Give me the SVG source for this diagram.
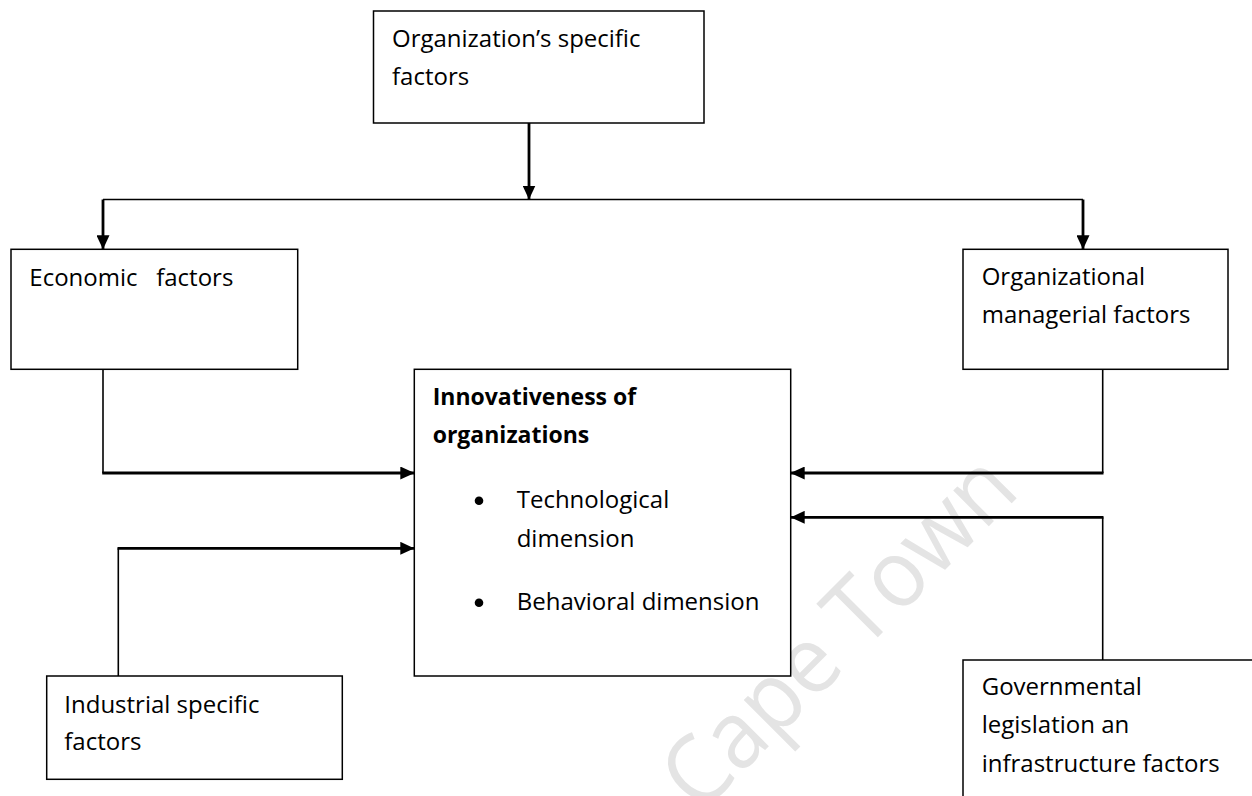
<svg xmlns="http://www.w3.org/2000/svg" width="1252" height="796" viewBox="0 0 1252 796">
<style>
.box{fill:#fff;stroke:#000;stroke-width:1.5}
.t{font-family:"Open Sans","Noto Sans",sans-serif;font-size:24px;fill:#000}
.b{font-weight:bold;font-size:23px}
.thin{fill:none;stroke:#000;stroke-width:1.6}
.thick{fill:none;stroke:#000;stroke-width:2.8}
.wm{font-family:"Open Sans","Noto Sans",sans-serif;font-size:94px;fill:#e4e4e4}
</style>
<defs>
<marker id="ah" viewBox="0 0 14 13" refX="14" refY="6.5" markerWidth="14" markerHeight="13" markerUnits="userSpaceOnUse" orient="auto">
<path d="M0,0 L14,6.5 L0,13 Z" fill="#000"/>
</marker>
</defs>
<rect width="1252" height="796" fill="#fff"/>
<text class="wm" x="0" y="0" textLength="455" lengthAdjust="spacingAndGlyphs" transform="translate(700,815) rotate(-45)">Cape Town</text>

<g id="connectors">
<path class="thick" d="M529,123 V199.5" marker-end="url(#ah)"/>
<path class="thin" d="M103,199.5 H1083"/>
<path class="thick" d="M103,199.5 V249.3" marker-end="url(#ah)"/>
<path class="thick" d="M1083,199.5 V249.3" marker-end="url(#ah)"/>
<path class="thin" d="M103,369.3 V473"/>
<path class="thick" d="M102.2,473 H414.3" marker-end="url(#ah)"/>
<path class="thin" d="M118.3,676 V548.3"/>
<path class="thick" d="M117.5,548.3 H414.3" marker-end="url(#ah)"/>
<path class="thin" d="M1102.7,369.3 V473"/>
<path class="thick" d="M1103.5,473 H790.7" marker-end="url(#ah)"/>
<path class="thin" d="M1102.7,660 V517.3"/>
<path class="thick" d="M1103.5,517.3 H790.7" marker-end="url(#ah)"/>
</g>

<g id="org-specific">
<rect class="box" x="373.5" y="11" width="330.5" height="112"/>
<text class="t" x="392" y="46.5">Organization’s specific</text>
<text class="t" x="392" y="85">factors</text>
</g>

<g id="economic">
<rect class="box" x="11" y="249.3" width="286.7" height="120"/>
<text class="t" x="29.3" y="286" xml:space="preserve">Economic   factors</text>
</g>

<g id="org-managerial">
<rect class="box" x="963" y="249.3" width="265" height="120"/>
<text class="t" x="981.7" y="285">Organizational</text>
<text class="t" x="981.7" y="323.3">managerial factors</text>
</g>

<g id="innovativeness">
<rect class="box" x="414.3" y="369.3" width="376.4" height="306.7"/>
<text class="t b" x="432.7" y="405">Innovativeness of</text>
<text class="t b" x="432.7" y="442.7">organizations</text>
<circle cx="479" cy="500.7" r="4.3" fill="#000"/>
<text class="t" x="516.7" y="508.3">Technological</text>
<text class="t" x="516.7" y="546.7">dimension</text>
<circle cx="479" cy="602.7" r="4.3" fill="#000"/>
<text class="t" x="516.7" y="610">Behavioral dimension</text>
</g>

<g id="industrial">
<rect class="box" x="46.7" y="676" width="295.6" height="103.3"/>
<text class="t" x="64.3" y="713.3">Industrial specific</text>
<text class="t" x="64.3" y="750">factors</text>
</g>

<g id="governmental">
<rect class="box" x="963" y="660" width="300" height="200"/>
<text class="t" x="981.7" y="695">Governmental</text>
<text class="t" x="981.7" y="733.3">legislation an</text>
<text class="t" x="981.7" y="771.7">infrastructure factors</text>
</g>
</svg>
